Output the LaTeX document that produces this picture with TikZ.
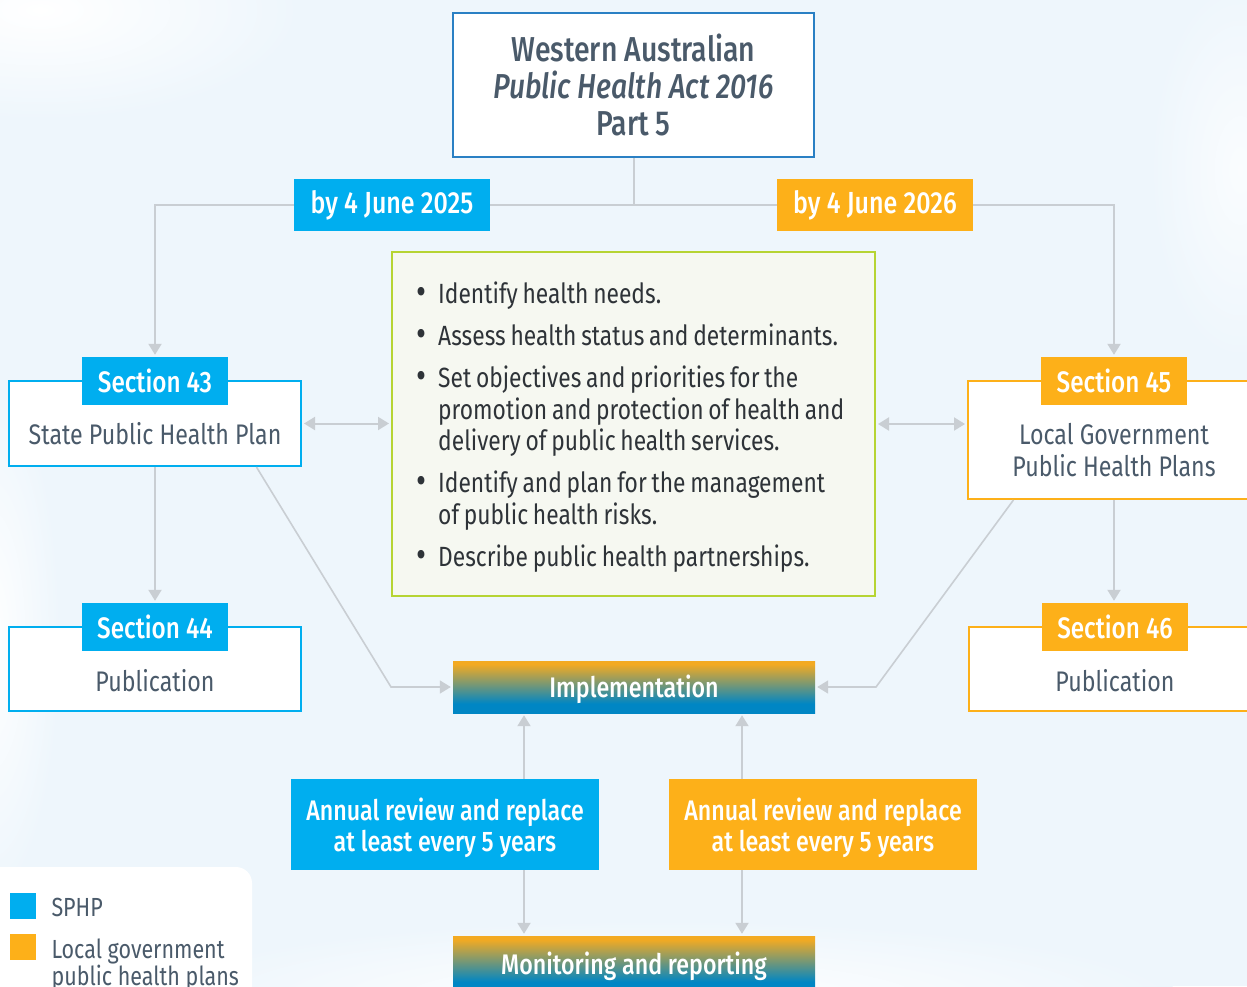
\documentclass[tikz,border=0pt]{standalone}
\usepackage{fontspec}
\setmainfont{Fira Sans}[FakeStretch=0.82, BoldFont={Fira Sans Medium}, BoldItalicFont={Fira Sans Medium Italic}]
\usetikzlibrary{arrows.meta,calc}
\definecolor{cyanB}{HTML}{00AEEF}
\definecolor{orgB}{HTML}{FDB019}
\definecolor{slate}{HTML}{4A5A6A}
\definecolor{darkT}{HTML}{2E3338}
\definecolor{arrowG}{HTML}{C9CED3}
\definecolor{bgB}{HTML}{EEF6FC}
\definecolor{topB}{HTML}{2A80C4}
\definecolor{grn}{HTML}{B6D433}
\definecolor{bulBg}{HTML}{F6F8F1}
\definecolor{gradO}{HTML}{F3AA22}
\definecolor{gradB}{HTML}{0086C4}
\pgfdeclareverticalshading{implshade}{100bp}{color(0bp)=(gradB); color(25bp)=(gradB); color(34bp)=(gradB); color(72bp)=(gradO); color(75bp)=(gradO); color(100bp)=(gradO)}
\newcommand\bitem[1]{\par\hangindent=21pt\hangafter=1\noindent\makebox[21pt][l]{\hspace{-1pt}\raisebox{-1pt}{\scalebox{1.35}{•}}}#1}
\newcommand\shiftdown[2]{\raisebox{-#1}[\height][\depth]{#2}}
\tikzset{
  conn/.style={draw=arrowG, line width=2pt, shorten >=2pt, shorten <=2pt},
  tip/.style={-{Triangle[length=11pt,width=13pt]}},
  tagbox/.style={inner sep=0, minimum width=146, minimum height=48, text=white, font=\bfseries\fontsize{29.6}{30}\selectfont},
  datebox/.style={inner sep=0, minimum width=196, minimum height=52, text=white, font=\bfseries\fontsize{30.5}{30}\selectfont},
  plainbox/.style={draw, line width=2pt, fill=white, inner sep=0, minimum width=292},
  boxtext/.style={text=slate, align=center, font=\fontsize{28.3}{32}\selectfont},
  gradbox/.style={shading=implshade, inner sep=0, minimum width=362, minimum height=52, text=white, font=\bfseries\fontsize{28.3}{30}\selectfont},
  annbox/.style={inner sep=0, minimum width=308, minimum height=91, text=white, align=center, font=\bfseries\fontsize{28.3}{31}\selectfont},
  legtext/.style={text=slate, align=left, font=\fontsize{26.2}{26}\selectfont}
}
\begin{document}
\begin{tikzpicture}[x=1pt,y=-1pt]
\useasboundingbox (0,0) rectangle (1247,986);
\clip (0,0) rectangle (1247,986);
% background
\fill[bgB] (0,0) rectangle (1247,986);
\shade[inner color=white, outer color=bgB] (40,10) ellipse [x radius=260, y radius=110];
\shade[inner color=white, outer color=bgB] (-10,640) ellipse [x radius=70, y radius=260];
\shade[inner color=white!70!bgB, outer color=bgB] (1240,170) ellipse [x radius=90, y radius=190];
\shade[inner color=white, outer color=bgB] (660,1000) ellipse [x radius=520, y radius=80];

% top box
\node[draw=topB, line width=2pt, fill=white, minimum width=361, minimum height=144, inner sep=0,
      text=slate, align=center, font=\bfseries\fontsize{34.6}{37}\selectfont] (top) at (633.5,85)
      {Western Australian\\ \textit{Public Health Act 2016}\\ Part 5};

% date tags
\node[datebox, fill=cyanB] (tagL) at (392,205) {by 4 June 2025};
\node[datebox, fill=orgB] (tagR) at (875,205) {by 4 June 2026};

% bullet box
\node[draw=grn, line width=2pt, fill=bulBg, minimum width=483, minimum height=344, inner sep=0] (bul) at (633.5,424) {};
\node[anchor=north west, inner sep=0, text width=470, text=darkT, align=left,
      font=\fontsize{27.8}{31.5}\selectfont] (bultext) at (417,261.5) {%
  \setlength{\parskip}{10.5pt}\spaceskip=0.17em plus 0.05em minus 0.03em\xspaceskip=0.2em\hyphenpenalty=10000\exhyphenpenalty=10000%
  \bitem{Identify health needs.}
  \bitem{Assess health status and determinants.}
  \bitem{Set objectives and priorities for the\newline promotion and protection of health and\newline delivery of public health services.}
  \bitem{Identify and plan for the management\newline of public health risks.}
  \bitem{Describe public health partnerships.}};

% left column
\node[plainbox, draw=cyanB, minimum height=85] (s43) at (155,423.5) {};
\node[tagbox, fill=cyanB] (s43tag) at (155,381) {Section 43};
\node[boxtext] (s43t) at (155,434) {State Public Health Plan};
\node[plainbox, draw=cyanB, minimum height=84] (s44) at (155,669) {};
\node[tagbox, fill=cyanB] (s44tag) at (155,627) {Section 44};
\node[boxtext] (s44t) at (155,681) {Publication};

% right column
\node[plainbox, draw=orgB, minimum height=118] (s45) at (1114,440) {};
\node[tagbox, fill=orgB] (s45tag) at (1114,381) {Section 45};
\node[boxtext] (s45t) at (1114,450) {Local Government\\Public Health Plans};
\node[plainbox, draw=orgB, minimum height=84] (s46) at (1115,669) {};
\node[tagbox, fill=orgB] (s46tag) at (1115,627) {Section 46};
\node[boxtext] (s46t) at (1115,681) {Publication};

% implementation / monitoring
\node[gradbox] (impl) at (634,687) {\shiftdown{2.5pt}{Implementation}};
\node[annbox, fill=cyanB] (annB) at (445,824.5) {\shiftdown{5pt}{\begin{tabular}{@{}c@{}}Annual review and replace\\[-0.5pt]at least every 5 years\end{tabular}}};
\node[annbox, fill=orgB] (annO) at (823,824.5) {\shiftdown{5pt}{\begin{tabular}{@{}c@{}}Annual review and replace\\[-0.5pt]at least every 5 years\end{tabular}}};
\node[gradbox, minimum height=56] (mon) at (634,964) {\shiftdown{2.5pt}{Monitoring and reporting}};

% connectors
\draw[conn, shorten <=0pt, shorten >=0pt] (top.south) |- (tagL.east);
\draw[conn, shorten <=0pt, shorten >=0pt] (top.south) |- (tagR.west);
\draw[conn, tip, shorten <=0pt] (tagL.west) -| (s43tag.north);
\draw[conn, tip, shorten <=0pt] (tagR.east) -| (s45tag.north);
\draw[conn, tip, shorten <=0pt] (s43.south) -- (s43.south |- s44tag.north);
\draw[conn, tip, shorten <=0pt] (s45.south) -- (s45.south |- s46tag.north);
\draw[conn, {Triangle[length=11pt,width=13pt]}-{Triangle[length=11pt,width=13pt]}] (s43.east) -- (bul.west |- s43.east);
\draw[conn, {Triangle[length=11pt,width=13pt]}-{Triangle[length=11pt,width=13pt]}] (bul.east) -- (s45.west |- bul.east);
\coordinate (dL) at (391,687);
\coordinate (dR) at (876,687);
\draw[conn, tip, line width=1.6pt, shorten <=0pt] ($(s43.south west)!0.845!(s43.south east)$) -- (dL) -- (impl.west);
\draw[conn, tip, line width=1.6pt, shorten <=0pt] ($(s45.south west)!0.158!(s45.south east)$) -- (dR) -- (impl.east);
\coordinate (xL) at (524,0);
\coordinate (xR) at (742,0);
\draw[conn, tip, shorten <=0pt] (annB.north -| xL) -- (impl.south -| xL);
\draw[conn, tip, shorten <=0pt] (annO.north -| xR) -- (impl.south -| xR);
\draw[conn, tip, shorten <=0pt] (annB.south -| xL) -- (mon.north -| xL);
\draw[conn, tip, shorten <=0pt] (annO.south -| xR) -- (mon.north -| xR);

% legend
\fill[white, rounded corners=16pt] (-20,867) rectangle (252,1010);
\node[fill=cyanB, minimum size=26, inner sep=0] (lgB) at (23,906) {};
\node[legtext, anchor=west] (lgBt) at (48,907) {SPHP};
\node[fill=orgB, minimum size=26, inner sep=0] (lgO) at (23,947) {};
\node[legtext, anchor=north west] (lgOt) at (48,935) {Local government\\public health plans};
\end{tikzpicture}
\end{document}
